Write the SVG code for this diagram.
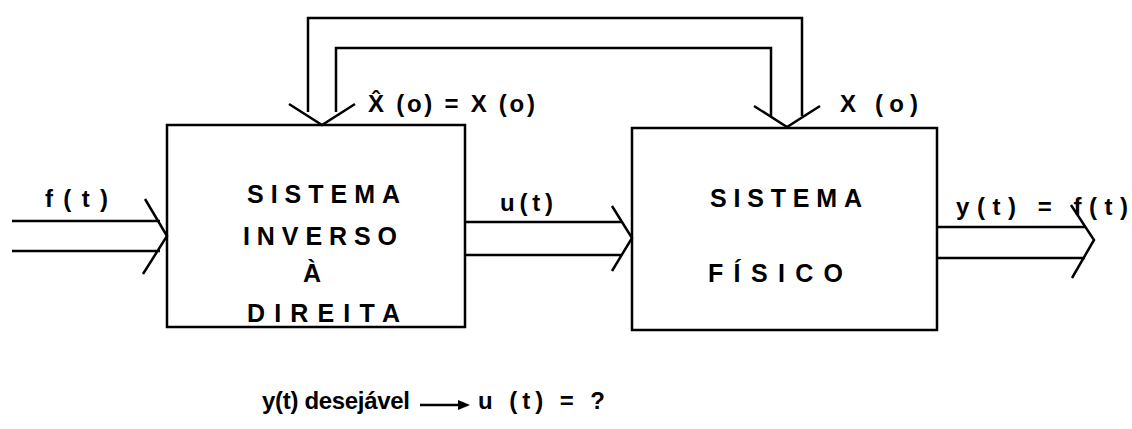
<svg xmlns="http://www.w3.org/2000/svg" width="1132" height="429" viewBox="0 0 1132 429">
<style>
.ln{fill:none;stroke:#000;stroke-width:2.5;stroke-linejoin:miter}
.t{font-family:"Liberation Sans",Arial,sans-serif;font-size:24px;font-weight:bold;fill:#000}
.b{font-size:25px}
</style>
<rect width="1132" height="429" fill="#fff"/>
<g id="connectors">
<path class="ln" d="M12 221H160M12 251H160M145 199L167 236L143 274"/>
<path class="ln" d="M465 222H622M465 255H622M612 206L632 238L612 271"/>
<path class="ln" d="M937 227H1085M937 258H1085M1071 205L1094 240L1072 278"/>
<path class="ln" d="M308 112V18H802V116M336 112V48H771V116"/>
<path class="ln" d="M289 104L322 125L355 104M754 106L787 127L820 106"/>
<path class="ln" d="M420 405H462" stroke-width="2"/>
<path d="M470 405L458 400L458 410Z" fill="#000"/>
</g>
<g id="inverso">
<rect class="ln" x="167" y="125" width="298" height="202"/>
<text class="t b" x="247" y="203" textLength="153" lengthAdjust="spacing">SISTEMA</text>
<text class="t b" x="243" y="245" textLength="154" lengthAdjust="spacing">INVERSO</text>
<text class="t b" x="303" y="282">À</text>
<text class="t b" x="247" y="322" textLength="153" lengthAdjust="spacing">DIREITA</text>
</g>
<g id="fisico">
<rect class="ln" x="632" y="128" width="305" height="202"/>
<text class="t b" x="710" y="207" textLength="152" lengthAdjust="spacing">SISTEMA</text>
<text class="t b" x="708" y="282" textLength="135" lengthAdjust="spacing">FÍSICO</text>
</g>
<g id="labels">
<text class="t" x="45" y="207" textLength="63" lengthAdjust="spacing">f(t)</text>
<text class="t" x="500" y="211" textLength="53" lengthAdjust="spacing">u(t)</text>
<text class="t" x="956" y="215" textLength="172" lengthAdjust="spacing">y(t) =  f(t)</text>
<text class="t" x="368" y="112" textLength="167" lengthAdjust="spacing">X̂ (o) = X (o)</text>
<text class="t" x="840" y="112" textLength="78" lengthAdjust="spacing">X (o)</text>
<text class="t" x="262" y="409" textLength="148" lengthAdjust="spacing">y(t) desejável</text>
<text class="t" x="478" y="409" textLength="127" lengthAdjust="spacing">u (t) = ?</text>
</g>
</svg>
